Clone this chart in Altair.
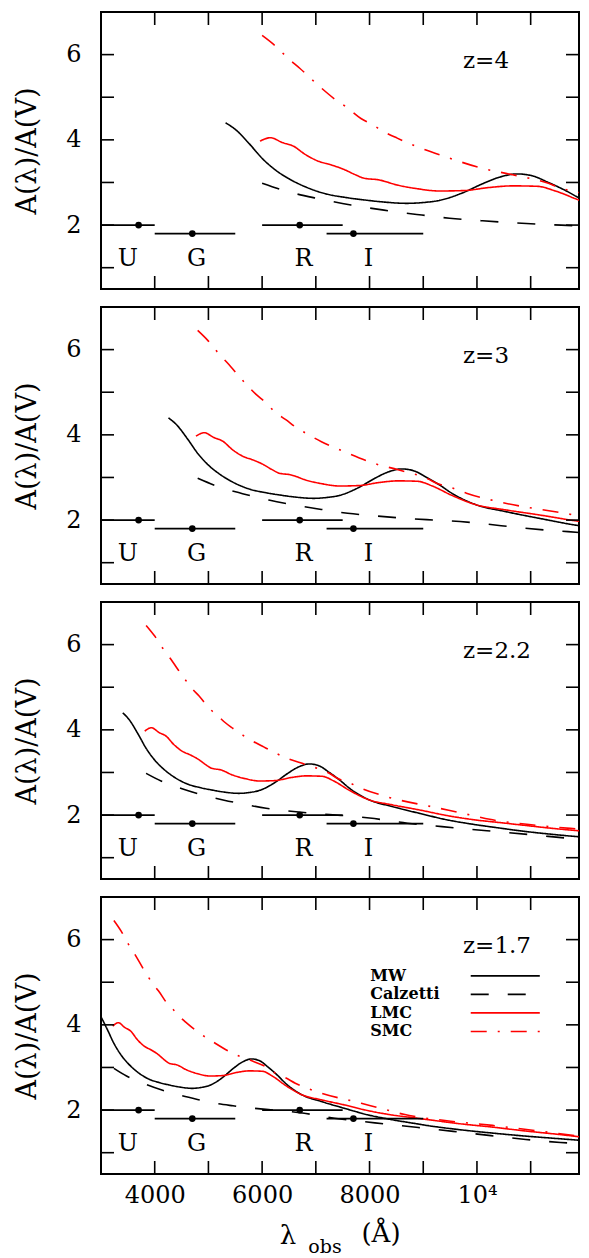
import altair as alt
import pandas as pd

# ---------------- data ----------------
REDSHIFTS = [4.0, 3.0, 2.2, 1.7]
Z_LABELS = ["z=4", "z=3", "z=2.2", "z=1.7"]

SERIES = ["MW", "Calzetti", "LMC", "SMC"]

# rest-frame wavelength (Angstrom) and A(lambda)/A(V)
MW_LAM = [1064, 1103, 1152, 1201, 1250, 1299, 1360, 1433, 1519, 1580, 1654,
          1739, 1801, 1861, 1948, 2021, 2082, 2150, 2204, 2266, 2327, 2383, 2496, 2632,
          2791, 2949, 3108, 3267, 3357, 3584, 3811, 4037, 4264, 4420]
MW_A = [4.40, 4.23, 3.91, 3.56, 3.29, 3.09, 2.90, 2.74, 2.64, 2.59, 2.54,
        2.51, 2.53, 2.58, 2.76, 2.97, 3.12, 3.20, 3.16, 3.00, 2.82, 2.63, 2.36, 2.20,
        2.04, 1.89, 1.78, 1.69, 1.64, 1.54, 1.46, 1.39, 1.33, 1.29]

CAL_LAM = [1200, 1287, 1409, 1531, 1654, 1776, 1898, 2021, 2143, 2266, 2382, 2500, 2720,
           3000, 3300, 3540, 3800, 4040, 4280, 4420]
CAL_A = [2.98, 2.80, 2.62, 2.47, 2.35, 2.25, 2.16, 2.10, 2.05, 2.01, 1.98, 1.93, 1.81,
         1.70, 1.59, 1.50, 1.40, 1.31, 1.24, 1.21]

LMC_LAM = [1192, 1231, 1274, 1317, 1360, 1409, 1458, 1507, 1544, 1580, 1635, 1703, 1771,
           1861, 1952, 2043, 2133, 2224, 2292, 2383, 2496, 2632, 2791, 2949, 3108, 3267,
           3400, 3584, 3811, 4037, 4264, 4420]
LMC_A = [3.97, 4.05, 3.94, 3.85, 3.66, 3.50, 3.41, 3.30, 3.19, 3.10, 3.06, 2.94, 2.86,
         2.80, 2.81, 2.88, 2.92, 2.91, 2.80, 2.58, 2.36, 2.24, 2.12, 1.99, 1.89, 1.82,
         1.76, 1.68, 1.60, 1.51, 1.43, 1.37]

SMC_LAM = [1200, 1250, 1299, 1340, 1409, 1476, 1507, 1568, 1612, 1654, 1703, 1776, 1884,
           2021, 2133, 2266, 2315, 2382, 2451, 2601, 2906, 3065, 3199, 3470, 3811, 4219, 4420]
SMC_A = [6.45, 6.20, 5.90, 5.68, 5.28, 4.93, 4.80, 4.50, 4.35, 4.19, 4.04, 3.84, 3.60,
         3.33, 3.18, 2.98, 2.86, 2.76, 2.63, 2.43, 2.16, 2.02, 1.90, 1.76, 1.64, 1.47, 1.38]

# photometric filters: observed-frame range, effective wavelength, plotted level
FILTERS = ["U", "G", "R", "I"]
FILT_LO = [3000, 4000, 6000, 7200]
FILT_HI = [4000, 5500, 7500, 9000]
FILT_CEN = [3700, 4700, 6700, 7700]
FILT_LEVEL = [2.0, 1.8, 2.0, 1.8]

X_TICKS = [4000, 5000, 6000, 7000, 8000, 9000, 10000, 11000]
X_LABELED = [4000, 6000, 8000, 10000]
Y_TICKS = [1, 2, 3, 4, 5, 6]
Y_LABELED = [2, 4, 6]

# ---------------- styling / layout ----------------
FONT = "DejaVu Serif"
W, H = 478, 277
X_DOM = [3000, 11900]
Y_DOM = [0.5, 7.0]
COLORS = ["#000000", "#000000", "#ff0000", "#ff0000"]
DASHES = [[1, 0], [18, 19], [1, 0], [16, 11, 2, 11]]
TICK = 13
LW = 1.6

FILT_LABEL_X = [3500, 4780, 6770, 7980]
FILT_LABEL_Y = 1.2
ZLABEL_X, ZLABEL_Y = 9740, 5.85
LEG_TEXT_X, LEG_LINE_X0, LEG_LINE_X1 = 8012, 9884, 11170
LEG_Y0, LEG_DY = 5.15, 0.435

xscale = alt.Scale(domain=X_DOM, nice=False, zero=False)
yscale = alt.Scale(domain=Y_DOM, nice=False, zero=False)
color_enc = alt.Color("series:N", scale=alt.Scale(domain=SERIES, range=COLORS), legend=None)
dash_enc = alt.StrokeDash("series:N", scale=alt.Scale(domain=SERIES, range=DASHES), legend=None)

curves_rest = {
    "MW": (MW_LAM, MW_A),
    "Calzetti": (CAL_LAM, CAL_A),
    "LMC": (LMC_LAM, LMC_A),
    "SMC": (SMC_LAM, SMC_A),
}

filt_df = pd.DataFrame({"name": FILTERS, "lo": FILT_LO, "hi": FILT_HI,
                        "cen": FILT_CEN, "lev": FILT_LEVEL, "lx": FILT_LABEL_X})
xt_df = pd.DataFrame({"v": X_TICKS})
yt_df = pd.DataFrame({"v": Y_TICKS})


def xd(v):
    return alt.XDatum(v, type="quantitative", scale=xscale, axis=None)


def yd(v):
    return alt.YDatum(v, type="quantitative", scale=yscale, axis=None)


def xq(f):
    return alt.X(f, type="quantitative", scale=xscale, axis=None)


def yq(f):
    return alt.Y(f, type="quantitative", scale=yscale, axis=None)


def tick_layers():
    base_x = alt.Chart(xt_df).mark_rule(color="black", strokeWidth=LW)
    base_y = alt.Chart(yt_df).mark_rule(color="black", strokeWidth=LW)
    return [
        base_x.encode(x=xq("v"), y=alt.value(0), y2=alt.value(TICK)),
        base_x.encode(x=xq("v"), y=alt.value(H - TICK), y2=alt.value(H)),
        base_y.encode(y=yq("v"), x=alt.value(0), x2=alt.value(TICK)),
        base_y.encode(y=yq("v"), x=alt.value(W - TICK), x2=alt.value(W)),
    ]


def panel(i, last):
    z = REDSHIFTS[i]
    rows = []
    for name in SERIES:
        lam, a = curves_rest[name]
        for k, (l, v) in enumerate(zip(lam, a)):
            rows.append({"series": name, "lam": l * (1 + z), "A": v, "k": k})
    df = pd.DataFrame(rows)

    if last:
        bottom = alt.Axis(orient="bottom", values=X_LABELED, ticks=False, domain=False,
                          grid=False, format="d", minExtent=0,
                          labelExpr="datum.value == 10000 ? '10\u2074' : datum.label",
                          labelFont=FONT, labelFontSize=24, labelColor="black",
                          labelPadding=9, labelFlush=False, title=None)
    else:
        bottom = None
    left = alt.Axis(orient="left", values=Y_LABELED, ticks=False, domain=False, grid=False,
                    minExtent=0, labelFont=FONT, labelFontSize=24, labelColor="black",
                    labelPadding=20, labelFlush=False, title="A(\u03bb)/A(V)", titleFont=FONT,
                    titleFontSize=27, titleFontWeight="normal", titleColor="black",
                    titlePadding=24)

    curves = alt.Chart(df).mark_line(strokeWidth=LW, clip=True, interpolate="monotone").encode(
        x=alt.X("lam:Q", scale=xscale, axis=bottom),
        y=alt.Y("A:Q", scale=yscale, axis=left),
        color=color_enc, strokeDash=dash_enc, order="k:Q", detail="series:N")

    bars = alt.Chart(filt_df).mark_rule(strokeWidth=LW, color="black", clip=True).encode(
        x=xq("lo"), x2="hi:Q", y=yq("lev"))
    dots = alt.Chart(filt_df).mark_circle(size=45, color="black", opacity=1).encode(
        x=xq("cen"), y=yq("lev"))
    flabels = alt.Chart(filt_df).mark_text(font=FONT, fontSize=24, color="black",
                                           baseline="middle", align="center").encode(
        x=xq("lx"), y=yd(FILT_LABEL_Y), text="name:N")
    zlabel = alt.Chart(pd.DataFrame({"t": [Z_LABELS[i]]})).mark_text(
        font=FONT, fontSize=23, color="black", align="left", baseline="middle").encode(
        x=xd(ZLABEL_X), y=yd(ZLABEL_Y), text="t:N")

    layers = [curves] + tick_layers() + [bars, dots, flabels, zlabel]

    if last:
        leg = pd.DataFrame({"series": SERIES,
                            "ly": [LEG_Y0 - LEG_DY * k for k in range(len(SERIES))]})
        leg_text = alt.Chart(leg).mark_text(font=FONT, fontSize=16, fontWeight="bold",
                                            color="black", align="left", baseline="middle").encode(
            x=xd(LEG_TEXT_X), y=yq("ly"), text="series:N")
        leg_lines = alt.Chart(leg).mark_rule(strokeWidth=LW).encode(
            x=xd(LEG_LINE_X0), x2=alt.X2Datum(LEG_LINE_X1), y=yq("ly"),
            color=color_enc, strokeDash=dash_enc)
        t1 = alt.Chart(pd.DataFrame({"t": ["\u03bb"]})).mark_text(
            font=FONT, fontSize=26, color="black", align="center", baseline="middle").encode(
            x=alt.value(187), y=alt.value(339), text="t:N")
        t2 = alt.Chart(pd.DataFrame({"t": ["obs"]})).mark_text(
            font=FONT, fontSize=19, color="black", align="center", baseline="middle").encode(
            x=alt.value(224), y=alt.value(350), text="t:N")
        t3 = alt.Chart(pd.DataFrame({"t": ["(\u00c5)"]})).mark_text(
            font=FONT, fontSize=26, color="black", align="center", baseline="middle").encode(
            x=alt.value(280), y=alt.value(337), text="t:N")
        layers += [leg_lines, leg_text, t1, t2, t3]

    return alt.layer(*layers).resolve_axis(x="independent", y="independent").properties(
        width=W, height=H)


chart = alt.vconcat(*[panel(i, i == 3) for i in range(4)], spacing=14).properties(
    padding={"left": 4, "top": 2, "right": 0, "bottom": 0}
).configure_view(stroke="black", strokeWidth=2)

chart.save("out.html", embed_options={"renderer": "svg", "actions": False})
